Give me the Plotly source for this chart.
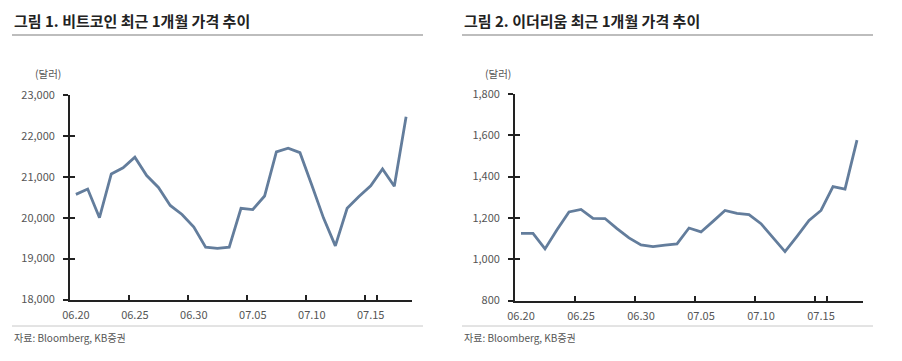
import plotly.graph_objects as go

dates = ["06.20", "06.21", "06.22", "06.23", "06.24", "06.25", "06.26", "06.27", "06.28", "06.29",
         "06.30", "07.01", "07.02", "07.03", "07.04", "07.05", "07.06", "07.07", "07.08", "07.09",
         "07.10", "07.11", "07.12", "07.13", "07.14", "07.15", "07.16", "07.17", "07.18"]
tick_dates = ["06.20", "06.25", "06.30", "07.05", "07.10", "07.15"]

btc = [20570, 20700, 20000, 21070, 21220, 21480, 21030, 20740, 20300, 20080,
       19770, 19280, 19250, 19280, 20230, 20200, 20530, 21610, 21700, 21590,
       20800, 19990, 19310, 20230, 20520, 20780, 21190, 20770, 22470]
eth = [1125, 1125, 1050, 1143, 1229, 1241, 1198, 1197, 1148, 1103,
       1069, 1061, 1068, 1074, 1151, 1132, 1183, 1236, 1222, 1216,
       1172, 1106, 1037, 1111, 1188, 1236, 1352, 1339, 1577]

btc_ticks = [18000, 19000, 20000, 21000, 22000, 23000]
eth_ticks = [800, 1000, 1200, 1400, 1600, 1800]

titles = ["그림 1. 비트코인 최근 1개월 가격 추이", "그림 2. 이더리움 최근 1개월 가격 추이"]
unit = "(달러)"
source = "자료: Bloomberg, KB증권"

OFF = 8  # page body margin
W, H = 902 - OFF, 361 - OFF
LINE = "#637d9c"
FONT = "Noto Sans CJK KR"

def px(x):
    return (x - OFF) / W

def py(y):
    return (H - (y - OFF)) / H

fig = go.Figure()

panels = [
    dict(vals=btc, ticks=btc_ticks, rng=[18000, 23000], x0=70, x1=412, ytop=95, ybot=299.5, left=12, right=423),
    dict(vals=eth, ticks=eth_ticks, rng=[800, 1800], x0=515, x1=863, ytop=94, ybot=300.5, left=462, right=873),
]

layout = dict(
    width=W, height=H, margin=dict(l=0, r=0, t=0, b=0, pad=0, autoexpand=False),
    paper_bgcolor="white", plot_bgcolor="white", showlegend=False,
    font=dict(family=FONT, color="#444", size=11),
)

shapes = []
annotations = []

for i, p in enumerate(panels):
    xa = "x" if i == 0 else "x2"
    ya = "y" if i == 0 else "y2"
    ya_ov = "y3" if i == 0 else "y4"
    xkey = "xaxis" if i == 0 else "xaxis2"
    ykey = "yaxis" if i == 0 else "yaxis2"
    yovkey = "yaxis3" if i == 0 else "yaxis4"

    fig.add_trace(go.Scatter(x=dates, y=p["vals"], mode="lines", xaxis=xa, yaxis=ya,
                             line=dict(color=LINE, width=2.8), hoverinfo="x+y"))
    fig.add_trace(go.Scatter(x=dates, y=p["vals"], mode="lines", xaxis=xa, yaxis=ya_ov,
                             line=dict(color="rgba(0,0,0,0)", width=0), hoverinfo="skip"))

    layout[xkey] = dict(
        domain=[px(p["x0"]), px(p["x1"])], anchor=ya, type="category",
        categoryorder="array", categoryarray=dates,
        range=[-0.5, len(dates) - 0.5],
        tickmode="array", tickvals=tick_dates, ticktext=tick_dates, tickangle=0,
        tickson="boundaries", ticks="inside", ticklen=5, tickwidth=1.5, tickcolor="#222",
        showline=True, linecolor="#222", linewidth=1.8,
        showgrid=False, zeroline=False, automargin=False,
        tickfont=dict(family=FONT, size=11, color="#555"), ticklabelstandoff=4,
        fixedrange=True,
    )
    ydom = [py(p["ybot"]), py(p["ytop"])]
    layout[ykey] = dict(
        domain=ydom, anchor=xa, range=p["rng"],
        tickmode="array", tickvals=p["ticks"], ticktext=[f"{v:,}" for v in p["ticks"]],
        ticks="outside", ticklen=5, tickwidth=1.5, tickcolor="#222",
        showline=True, linecolor="#222", linewidth=1.8,
        showgrid=False, zeroline=False, automargin=False,
        tickfont=dict(family=FONT, size=11, color="#555"), ticklabelstandoff=6,
        fixedrange=True,
    )
    layout[yovkey] = dict(
        domain=ydom, anchor=xa, overlaying=ya, range=p["rng"],
        tickmode="array", tickvals=p["ticks"], showticklabels=False,
        ticks="inside", ticklen=5, tickwidth=1.5, tickcolor="#222", automargin=False,
        showline=False, showgrid=False, zeroline=False, fixedrange=True,
    )

    annotations.append(dict(x=px(p["left"]), y=py(20), xref="paper", yref="paper",
                            text=f"<b>{titles[i]}</b>", showarrow=False, xanchor="left", yanchor="middle",
                            font=dict(family=FONT, size=15, color="#222")))
    shapes.append(dict(type="line", xref="paper", yref="paper",
                       x0=px(p["left"]), x1=px(p["right"]), y0=py(35), y1=py(35),
                       line=dict(color="#bdbdbd", width=2)))
    annotations.append(dict(x=px(p["left"] + 36), y=py(73), xref="paper", yref="paper",
                            text=unit, showarrow=False, xanchor="center", yanchor="middle",
                            font=dict(family=FONT, size=10.5, color="#555")))
    shapes.append(dict(type="line", xref="paper", yref="paper",
                       x0=px(p["left"]), x1=px(p["right"]), y0=py(326), y1=py(326),
                       line=dict(color="#c8c8c8", width=1)))
    annotations.append(dict(x=px(p["left"]), y=py(337), xref="paper", yref="paper",
                            text=source, showarrow=False, xanchor="left", yanchor="middle",
                            font=dict(family=FONT, size=10, color="#555")))

layout["shapes"] = shapes
layout["annotations"] = annotations
fig.update_layout(**layout)

fig.write_html("out.html")
